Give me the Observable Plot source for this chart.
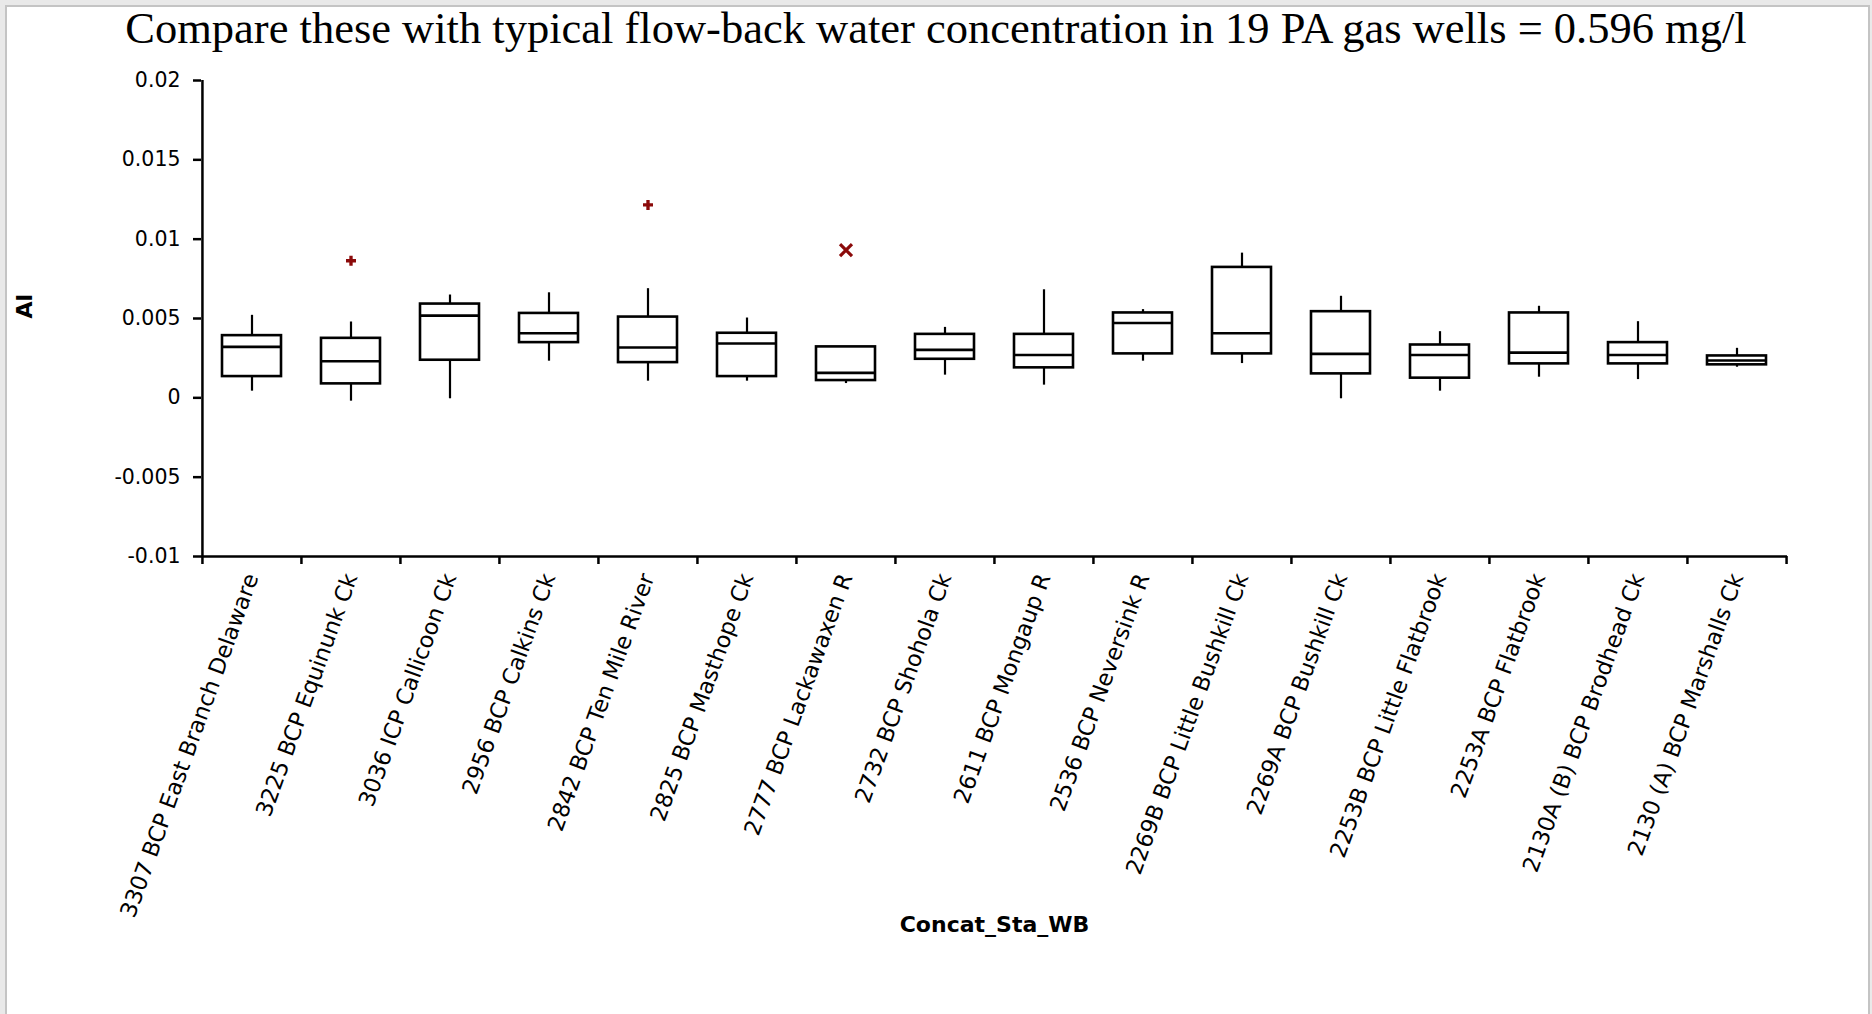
<!DOCTYPE html>
<html><head><meta charset="utf-8">
<script src="https://cdn.jsdelivr.net/npm/d3@7"></script>
<script src="https://cdn.jsdelivr.net/npm/@observablehq/plot@0.6"></script>
<style>
html,body{margin:0;padding:0;}
body{width:1872px;height:1014px;background:#e9e9e9;position:relative;overflow:hidden;}
#frame{position:absolute;left:5px;top:5px;width:1861px;height:1009px;background:#fff;border:2px solid #c4c4c4;border-bottom:none;}
#title{position:absolute;left:0;top:6px;width:1872px;text-align:center;font-family:"Liberation Serif",serif;font-size:44.5px;line-height:44.5px;color:#000;white-space:nowrap;}
#chart{position:absolute;left:0;top:60px;}
</style></head><body>
<div id="frame"></div>
<div id="title">Compare these with typical flow-back water concentration in 19 PA gas wells = 0.596 mg/l</div>
<div id="chart"></div>
<script>
const categories = [
  "3307 BCP East Branch Delaware", "3225 BCP Equinunk Ck", "3036 ICP Callicoon Ck", "2956 BCP Calkins Ck",
  "2842 BCP Ten Mile River", "2825 BCP Masthope Ck", "2777 BCP Lackawaxen R", "2732 BCP Shohola Ck",
  "2611 BCP Mongaup R", "2536 BCP Neversink R", "2269B BCP Little Bushkill Ck", "2269A BCP Bushkill Ck",
  "2253B BCP Little Flatbrook", "2253A BCP Flatbrook", "2130A (B) BCP Brodhead Ck", "2130 (A) BCP Marshalls Ck"
];
const whiskerLow  = [0.00042, -0.00021, -0.00006, 0.00231, 0.00105, 0.00105, 0.00090, 0.00143, 0.00080, 0.00231, 0.00216, -0.00006, 0.00042, 0.00130, 0.00115, 0.00193];
const q1          = [0.00134, 0.00088, 0.00237, 0.00348, 0.00222, 0.00134, 0.00109, 0.00243, 0.00189, 0.00277, 0.00277, 0.00151, 0.00124, 0.00214, 0.00214, 0.00208];
const median      = [0.00321, 0.00231, 0.00518, 0.00407, 0.00317, 0.00342, 0.00157, 0.00302, 0.00270, 0.00472, 0.00407, 0.00277, 0.00270, 0.00285, 0.00270, 0.00235];
const q3          = [0.00392, 0.00375, 0.00591, 0.00532, 0.00509, 0.00407, 0.00321, 0.00400, 0.00400, 0.00535, 0.00822, 0.00543, 0.00333, 0.00535, 0.00348, 0.00264];
const whiskerHigh = [0.00520, 0.00478, 0.00648, 0.00662, 0.00688, 0.00503, 0.00321, 0.00444, 0.00681, 0.00556, 0.00912, 0.00640, 0.00417, 0.00577, 0.00480, 0.00312];
const outlierCat   = ["3225 BCP Equinunk Ck", "2842 BCP Ten Mile River", "2777 BCP Lackawaxen R"];
const outlierValue = [0.00864, 0.01216, 0.00931];
const outlierKind  = ["mild", "mild", "extreme"];
const yTicks = [-0.01, -0.005, 0, 0.005, 0.01, 0.015, 0.02];
const yDomain = [-0.01, 0.02];

const W = 1872, H = 954, ML = 201, MR = 85, MT = 20, MB = 458;
const bw = (W - ML - MR) / categories.length;
const pxPerUnit = (H - MT - MB) / (yDomain[1] - yDomain[0]);
const tickLen = 8 / pxPerUnit;

const rows = categories.map((c, i) => ({cat: c, lo: whiskerLow[i], q1: q1[i], med: median[i], q3: q3[i], hi: whiskerHigh[i]}));
const outRows = outlierCat.map((c, i) => ({cat: c, v: outlierValue[i], kind: outlierKind[i]}));
const red = "#8b0a0a";

const chart = Plot.plot({
  width: W, height: H, marginLeft: ML, marginRight: MR, marginTop: MT, marginBottom: MB,
  style: {background: "transparent", fontFamily: "DejaVu Sans", overflow: "visible", color: "black"},
  x: {domain: categories, padding: 0, axis: null},
  y: {domain: yDomain, axis: null},
  marks: [
    Plot.ruleY([yDomain[0]], {strokeWidth: 2.5, stroke: "black"}),
    Plot.ruleX([categories[0]], {x: d => d, dx: -bw / 2, y1: yDomain[0], y2: yDomain[1], strokeWidth: 2.5, stroke: "black"}),
    Plot.ruleX(categories, {x: d => d, dx: -bw / 2, y1: yDomain[0], y2: yDomain[0] - tickLen, strokeWidth: 2.5, stroke: "black"}),
    Plot.ruleX([categories[categories.length - 1]], {x: d => d, dx: bw / 2, y1: yDomain[0], y2: yDomain[0] - tickLen, strokeWidth: 2.5, stroke: "black"}),
    Plot.axisY({ticks: yTicks, tickFormat: d => String(d), tickSize: 8, tickPadding: 13, fontSize: 20.5, strokeWidth: 2.5, label: null}),
    Plot.axisX({tickSize: 0, tickRotate: -70, tickPadding: 18, fontSize: 22.5, label: null}),
    Plot.ruleX(rows, {x: "cat", y1: "lo", y2: "q1", strokeWidth: 2.2, stroke: "black"}),
    Plot.ruleX(rows, {x: "cat", y1: "q3", y2: "hi", strokeWidth: 2.2, stroke: "black"}),
    Plot.barY(rows, {x: "cat", y1: "q1", y2: "q3", fill: "white", stroke: "black", strokeWidth: 2.6, insetLeft: 20, insetRight: 20}),
    Plot.tickY(rows, {x: "cat", y: "med", stroke: "black", strokeWidth: 2.6, insetLeft: 20, insetRight: 20}),
    Plot.dot(outRows.filter(d => d.kind === "mild"), {x: "cat", y: "v", symbol: "cross", r: 4.2, fill: red, stroke: "none"}),
    Plot.dot(outRows.filter(d => d.kind === "extreme"), {x: "cat", y: "v", symbol: "times", r: 5.5, stroke: red, strokeWidth: 3.2}),
    Plot.text(["Concat_Sta_WB"], {text: d => d, frameAnchor: "bottom", dy: 375, fontWeight: "bold", fontSize: 22, fill: "black"}),
    Plot.text(["Al"], {text: d => d, frameAnchor: "left", dx: -177, rotate: -90, fontWeight: "bold", fontSize: 22, fill: "black"})
  ]
});
document.getElementById("chart").appendChild(chart);
</script>
</body></html>
